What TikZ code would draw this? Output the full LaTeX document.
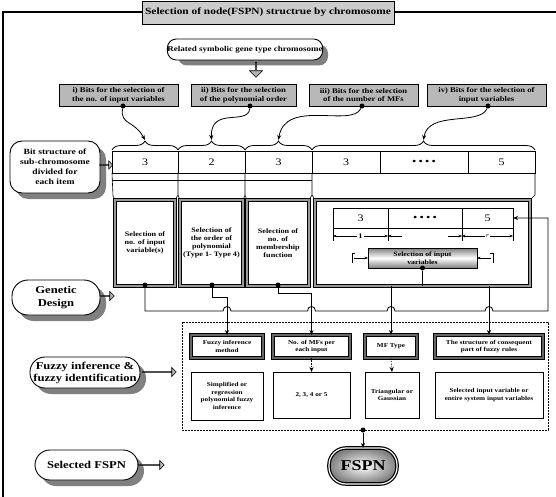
\documentclass[tikz,border=0pt]{standalone}
\usepackage{fontspec}
\setmainfont{Liberation Serif}[FakeStretch=1.2]
\usetikzlibrary{shapes.arrows,decorations.pathreplacing,arrows.meta}
\definecolor{shadc}{gray}{0.5}
\definecolor{bitc}{gray}{0.72}
\definecolor{titc}{gray}{0.8}
\definecolor{arrc}{gray}{0.7}
\definecolor{dblc}{gray}{0.6}
\definecolor{dbld}{gray}{0.4}
\begin{document}
\begin{tikzpicture}[x=1pt,y=-1pt,
  >={Stealth[length=5pt,width=4pt]},
  fs/.style 2 args={font=\fontsize{#1}{#2}\selectfont\bfseries},
  bx/.style={inner sep=0pt, outer sep=0pt, align=center},
  titlebox/.style={bx, draw, line width=0.8pt, fill=titc, fs={9.5}{11}},
  shad/.style={bx, fill=shadc, draw=none},
  lbl/.style={bx, draw, line width=0.9pt, fill=white},
  bitsbox/.style={bx, draw, line width=0.9pt, fill=bitc, fs={7.2}{8.5}},
  blob/.style={circle, fill=black, inner sep=0pt, minimum size=5pt},
  cell/.style={bx, draw, line width=0.6pt, font=\fontsize{10}{12}\selectfont},
  lowbox/.style={bx, draw, line width=0.5pt, double=dblc, double distance=2.4pt, fill=white, fs={6.8}{8}},
  fzbox/.style={bx, draw, line width=0.6pt, double=dbld, double distance=2pt, fill=white, fs={6}{7.5}},
  gbox/.style={bx, draw, line width=0.5pt, fill=white, fs={6}{7.5}},
  blockarrow/.style={single arrow, draw, line width=0.6pt, fill=arrc, inner sep=0pt, single arrow head extend=3pt, minimum width=9pt},
  conn/.style={line width=0.8pt},
  brc/.style={decorate, decoration={brace, amplitude=9pt}, line width=0.8pt},
]
\useasboundingbox (0,0) rectangle (556,497);

% frame
\draw[line width=1.4pt] (3,497) -- (3,12) -- (556,12);
\node[titlebox, minimum width=252pt, minimum height=23pt] (title) at (268,12.5) {Selection of node(FSPN) structrue by chromosome};

% related chromosome
\node[shad, rounded corners=9pt, minimum width=150pt, minimum height=21pt] (relS) at (253,55) {};
\node[lbl, rounded corners=9pt, minimum width=150pt, minimum height=21pt, fs={7.5}{9}] (rel) at (245,49.5) {Related symbolic gene type chromosome};
\node[blockarrow, shape border rotate=270, minimum height=15pt, minimum width=13pt] (darr) at (256,69.5) {};

% bits boxes
\node[bitsbox, minimum width=119pt, minimum height=22pt] (g1) at (118.5,95) {i) Bits for the selection of\\the no. of input variables};
\node[bitsbox, minimum width=105pt, minimum height=22pt] (g2) at (243.5,95) {ii) Bits for the selection\\of the polynomial order};
\node[bitsbox, minimum width=109pt, minimum height=22pt] (g3) at (363.5,95) {iii) Bits for the selection\\of the number of MFs};
\node[bitsbox, minimum width=119pt, minimum height=22pt] (g4) at (486.5,95) {iv) Bits for the selection of\\input variables};
\node[blob] (d1) at (123,106) {};
\node[blob] (d2) at (250,106) {};
\node[blob] (d3) at (362,106) {};
\node[blob] (d4) at (488,106) {};

% cells
\node[cell, minimum width=66pt, minimum height=22pt] (c1) at (145,162) {3};
\node[cell, minimum width=67pt, minimum height=22pt] (c2) at (211.5,162) {2};
\node[cell, minimum width=67pt, minimum height=22pt] (c3) at (278.5,162) {3};
\node[cell, minimum width=68pt, minimum height=22pt] (c4) at (346,162) {3};
\node[cell, minimum width=88pt, minimum height=22pt, font=\fontsize{9}{10}\selectfont\bfseries] (c5) at (424,162) {\textbullet\ \textbullet\ \textbullet\ \textbullet};
\node[cell, minimum width=67pt, minimum height=22pt] (c6) at (501.5,162) {5};
\draw[line width=0.6pt] (112,180) -- (312,180);

% braces
\draw[brc] (112,150) -- (178,150);
\draw[brc] (178,150) -- (245,150);
\draw[brc] (245,150) -- (312,150);
\draw[brc] (312,150) -- (535,150);
\coordinate (b1) at (145,140);
\coordinate (b2) at (211.5,140);
\coordinate (b3) at (278.5,140);
\coordinate (b4) at (423.5,140);
\draw[conn,->] (d1) .. controls (120,125) and (134,120) .. (b1);
\draw[conn,->] (d2) .. controls (248,126) and (210,106) .. (b2);
\draw[conn,->] (d3) .. controls (352,128) and (285,98) .. (b3);
\draw[conn,->] (d4) .. controls (480,126) and (428,110) .. (b4);

% bit structure label
\node[shad, rounded corners=12pt, minimum width=90pt, minimum height=52pt] (bitsS) at (61,173) {};
\node[lbl, rounded corners=12pt, minimum width=90pt, minimum height=52pt, fs={8}{10}] (bits) at (55,167) {Bit structure of\\sub-chromosome\\divided for\\each item};
\node[blockarrow, minimum height=13pt, minimum width=8pt] (barr) at (106,165) {};

% columns
\draw[line width=0.6pt] (112,173) -- (113,196) -- (115,200);
\draw[line width=0.6pt] (178,173) -- (178,195) -- (175,200) (178,195) -- (180,200);
\draw[line width=0.6pt] (245,173) -- (245,195) -- (243,200) (245,195) -- (247,200);
\draw[line width=0.6pt] (312,173) -- (312,195) -- (309,200) (312,195) -- (315,200);
\draw[line width=0.6pt] (535,173) -- (535,195) -- (530,200);

% lower boxes
\node[lowbox, minimum width=60pt, minimum height=86pt] (A) at (145,243) {Selection of\\no. of input\\variable(s)};
\node[lowbox, minimum width=63pt, minimum height=86pt] (B) at (211.5,243) {Selection of\\the order of\\polynomial\\(Type 1- Type 4)};
\node[lowbox, minimum width=62pt, minimum height=86pt] (C) at (278,243) {Selection of\\no. of\\membership\\function};
\node[lowbox, minimum width=215pt, minimum height=86pt] (D) at (422.5,243) {};

% inside D
\node[cell, minimum width=55pt, minimum height=20pt] (r1) at (360.5,218) {3};
\node[cell, minimum width=74pt, minimum height=20pt, font=\fontsize{9}{10}\selectfont\bfseries] (r2) at (425,218) {\textbullet\ \textbullet\ \textbullet\ \textbullet};
\node[cell, minimum width=51pt, minimum height=20pt] (r3) at (487.5,218) {5};
\draw[line width=0.5pt] (333,228) -- (333,241) (388,228) -- (388,241) (462,228) -- (462,241) (513,228) -- (513,241);
\draw[line width=0.5pt, {Stealth[length=3.5pt]}-{Stealth[length=3.5pt]}] (333,236) -- node[fill=white, inner sep=1pt, fs={7}{8}] {1} (388,236);
\draw[line width=0.5pt, {Stealth[length=3.5pt]}-] (388,236) -- (402,236);
\draw[line width=0.5pt, -{Stealth[length=3.5pt]}] (448,236) -- (462,236);
\draw[line width=0.5pt, {Stealth[length=3.5pt]}-{Stealth[length=3.5pt]}] (462,236) -- node[fill=white, inner sep=1pt, font=\fontsize{7}{8}\selectfont] {$r$} (513,236);
\node[bx, draw, line width=0.6pt, top color=shadc, bottom color=shadc, middle color=white, minimum width=109pt, minimum height=20pt, fs={6.5}{8}] (sel) at (422.5,258) {Selection of input\\variables};
\draw[line width=0.5pt] (355,253) -- (352,253) -- (352,263);
\draw[line width=0.5pt, -{Stealth[length=3.5pt]}] (354,258) -- (sel.west);
\draw[line width=0.5pt] (490,253) -- (493,253) -- (493,263);
\draw[line width=0.5pt, -{Stealth[length=3.5pt]}] (491,258) -- (sel.east);
\node[blob] (dS) at (422.5,268) {};
\draw[conn] (dS) -- (D.south);

% dots on lower boxes
\node[blob] (dA) at (145,285) {};
\node[blob] (dB) at (212,285) {};
\node[blob] (dC) at (278,285) {};

% left labels
\node[shad, rounded corners=16pt, minimum width=88pt, minimum height=35pt] (genS) at (62,303.5) {};
\node[lbl, rounded corners=16pt, minimum width=88pt, minimum height=35pt, fs={10.5}{12.5}] (gen) at (56,297.5) {Genetic\\Design};
\node[blockarrow, minimum height=14pt] (garr) at (107,296) {};
\node[shad, rounded corners=15pt, minimum width=110pt, minimum height=31pt] (fuzS) at (91,378.5) {};
\node[lbl, rounded corners=15pt, minimum width=110pt, minimum height=31pt, fs={10.5}{12}] (fuz) at (85,372.5) {Fuzzy inference \&\\fuzzy identification};
\node[blockarrow, minimum height=34pt] (farr) at (159,372) {};
\node[shad, rounded corners=15pt, minimum width=103pt, minimum height=30pt] (selFS) at (92.5,471) {};
\node[lbl, rounded corners=15pt, minimum width=103pt, minimum height=30pt, fs={10.5}{12}] (selF) at (86.5,465) {Selected FSPN};
\node[blockarrow, minimum height=26pt] (sarr) at (151,465) {};

% dashed region
\draw[line width=0.7pt, dash pattern=on 2pt off 1pt] (182,322) rectangle (548,430);
\node[fzbox, minimum width=72pt, minimum height=23pt] (F1) at (227,346.5) {Fuzzy inference\\method};
\node[fzbox, minimum width=77pt, minimum height=23pt] (F2) at (311.5,346.5) {No. of MFs per\\each input};
\node[fzbox, minimum width=52pt, minimum height=23pt] (F3) at (391,346.5) {MF Type};
\node[fzbox, minimum width=108pt, minimum height=23pt] (F4) at (489,346.5) {The structure of consequent\\part of fuzzy rules};
\node[gbox, minimum width=72pt, minimum height=48pt] (G1) at (227,396) {Simplified or\\regression\\polynomial fuzzy\\inference};
\node[gbox, minimum width=77pt, minimum height=46pt] (G2) at (311.5,395) {2, 3, 4 or 5};
\node[gbox, minimum width=54pt, minimum height=46pt] (G3) at (392,395) {Triangular or\\Gaussian};
\node[gbox, minimum width=108pt, minimum height=46pt] (G4) at (489,395) {Selected input variable or\\entire system input variables};
\draw[line width=0.6pt, densely dotted, ->] (F2.south) -- (G2.north);
\draw[line width=0.6pt, densely dotted, ->] (F3.south) -- (G3.north);

% bus with hops and feedback
\draw[conn,->] (dA) -- (145,311) -- (223,311) .. controls (223,305) and (231,305) .. (231,311)
  -- (307.5,311) .. controls (307.5,305) and (315.5,305) .. (315.5,311)
  -- (387,311) .. controls (387,305) and (395,305) .. (395,311)
  -- (485,311) .. controls (485,305) and (493,305) .. (493,311)
  -- (548,311) |- (r3.east);
\draw[conn,->] (dB) -- (212,297) -- (227,297) -- (F1.north);
\draw[conn,->] (dC) -- (278,293) -- (311.5,293) -- (F2.north);
\draw[conn,->] (D.south -| F3.north) -- (F3.north);
\draw[conn,->] (D.south -| F4.north) -- (F4.north);

% FSPN
\node[blob] (dF) at (363,430) {};
\node[bx, draw, line width=1.2pt, double=white, double distance=1.2pt, rounded corners=17pt, inner color=white, outer color=shadc, minimum width=68pt, minimum height=36pt, fs={15}{17}] (fspn) at (363,466) {FSPN};
\draw[conn,->] (dF) -- (fspn.north);
\end{tikzpicture}
\end{document}
